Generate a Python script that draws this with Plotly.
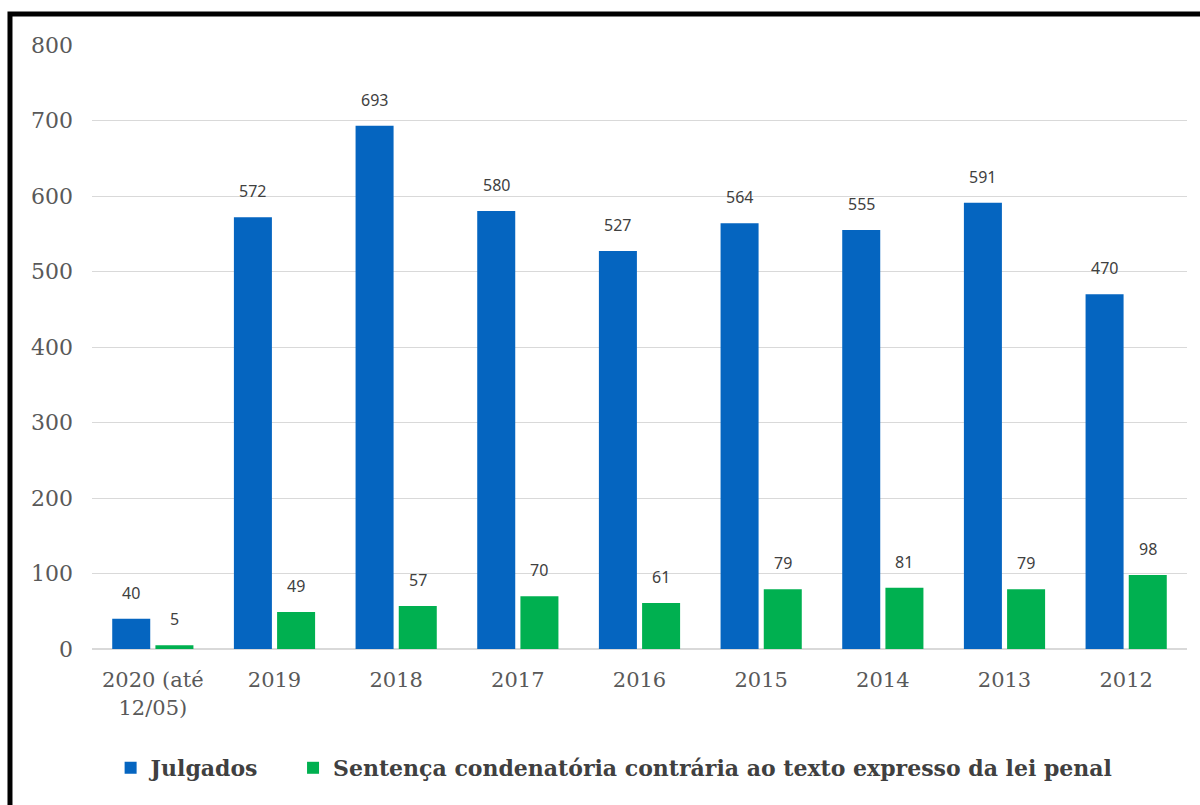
import plotly.graph_objects as go

categorias = ["2020 (até<br>12/05)", "2019", "2018", "2017", "2016", "2015", "2014", "2013", "2012"]
julgados = [40, 572, 693, 580, 527, 564, 555, 591, 470]
sentenca = [5, 49, 57, 70, 61, 79, 81, 79, 98]
y_ticks = [0, 100, 200, 300, 400, 500, 600, 700, 800]

AZUL = "#0565C0"
VERDE = "#00B050"
SERIF = "DejaVu Serif, Liberation Serif, serif"
SANS = "Noto Sans, Open Sans, sans-serif"

fig = go.Figure()
fig.add_trace(go.Bar(name="Julgados", x=categorias, y=julgados, marker_color=AZUL,
                     marker_line_width=0, legend="legend"))
fig.add_trace(go.Bar(name="Sentença condenatória contrária ao texto expresso da lei penal",
                     x=categorias, y=sentenca, marker_color=VERDE, marker_line_width=0,
                     legend="legend2"))

# value labels above each bar (x given as category index, shifted onto each bar)
annotations = []
for serie, shift in ((julgados, -21.6), (sentenca, 21.6)):
    for i, v in enumerate(serie):
        annotations.append(dict(x=i, y=v, xref="x", yref="y", text=str(v),
                                showarrow=False, xshift=shift, yshift=26,
                                yanchor="middle",
                                font=dict(family=SANS, size=16, color="#404040")))

legend_font = dict(family=SERIF, size=22, color="#404040", weight="bold")
fig.update_layout(
    width=1200, height=805,
    margin=dict(l=92, r=13, t=45, b=156),
    paper_bgcolor="white", plot_bgcolor="white",
    barmode="group", bargap=0.29, bargroupgap=0.12,
    annotations=annotations,
    showlegend=True,
    legend=dict(orientation="h", x=0.017, xanchor="left", y=-0.197, yanchor="middle",
                font=legend_font, bgcolor="rgba(0,0,0,0)"),
    legend2=dict(orientation="h", x=0.1836, xanchor="left", y=-0.197, yanchor="middle",
                 font=legend_font, bgcolor="rgba(0,0,0,0)"),
    shapes=[dict(type="rect", xref="paper", yref="paper",
                 x0=-0.0749, x1=1.3, y0=-1.0, y1=1.0513,
                 line=dict(color="black", width=5), fillcolor="rgba(0,0,0,0)",
                 layer="above")],
)
fig.update_xaxes(type="category", showgrid=False, showline=True, linecolor="#d9d9d9",
                 linewidth=1, ticks="",
                 tickfont=dict(family=SERIF, size=21, color="#595959"),
                 ticklabelstandoff=12)
fig.update_yaxes(range=[0, 800], tickvals=y_ticks, showgrid=True, gridcolor="#d9d9d9",
                 gridwidth=1, zeroline=True, zerolinecolor="#d9d9d9", showline=False,
                 ticks="", tickfont=dict(family=SERIF, size=22, color="#595959"),
                 ticklabelstandoff=18)

fig.write_html("out.html")
